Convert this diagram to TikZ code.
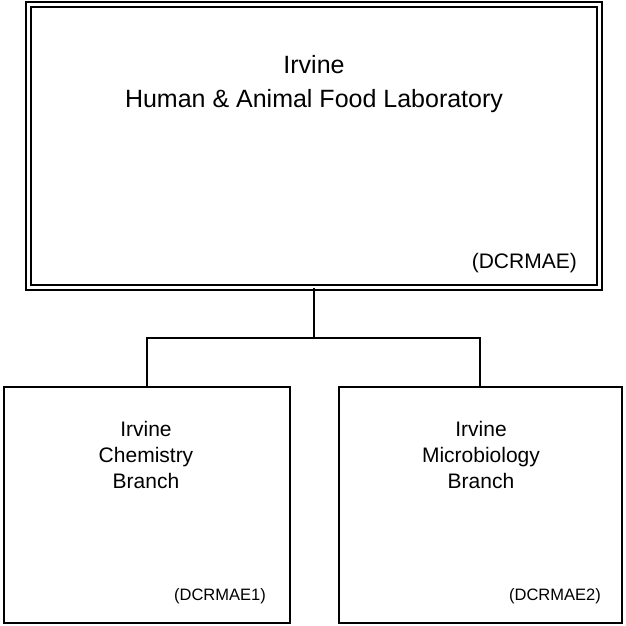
\documentclass[tikz,border=0pt]{standalone}
\usepackage{fontspec}
\setmainfont{Liberation Sans}
\begin{document}
\begin{tikzpicture}[x=1pt,y=-1pt]
\tikzset{
  topbox/.style={draw, double, double distance=3pt, line width=2pt, inner sep=0pt, outer sep=0pt},
  subbox/.style={draw, line width=2pt, inner sep=0pt, outer sep=0pt},
  conn/.style={draw, line width=2pt},
  bigtxt/.style={anchor=base, inner sep=0pt, font=\fontsize{25}{30}\selectfont},
  midtxt/.style={anchor=base, inner sep=0pt, font=\fontsize{21}{25}\selectfont},
  codetxt/.style={anchor=base east, inner sep=0pt, font=\fontsize{21}{25}\selectfont},
  smallcode/.style={anchor=base east, inner sep=0pt, font=\fontsize{16.5}{20}\selectfont}
}
\useasboundingbox (0,0) rectangle (625,626);
% boxes
\node[topbox, minimum width=571pt, minimum height=283pt] (top) at (314,146) {};
\node[subbox, minimum width=286pt, minimum height=235.5pt] (left) at (146.5,504.75) {};
\node[subbox, minimum width=283pt, minimum height=235.5pt] (right) at (480,504.75) {};
% connectors
\coordinate (junc) at (314,338);
\draw[conn] (top.south) -- (junc);
\draw[conn] (junc) -| (left.north);
\draw[conn] (junc) -| (right.north);
% texts
\node[bigtxt] (t1) at (314,74) {Irvine};
\node[bigtxt] (t2) at (314,107) {Human \& Animal Food Laboratory};
\node[codetxt] (t3) at (577,268) {(DCRMAE)};
\node[midtxt] (l1) at (146,436) {Irvine};
\node[midtxt] (l2) at (146,462) {Chemistry};
\node[midtxt] (l3) at (146,488) {Branch};
\node[smallcode] (l4) at (266,600) {(DCRMAE1)};
\node[midtxt] (r1) at (481,436) {Irvine};
\node[midtxt] (r2) at (481,462) {Microbiology};
\node[midtxt] (r3) at (481,488) {Branch};
\node[smallcode] (r4) at (601,600) {(DCRMAE2)};
\end{tikzpicture}
\end{document}
